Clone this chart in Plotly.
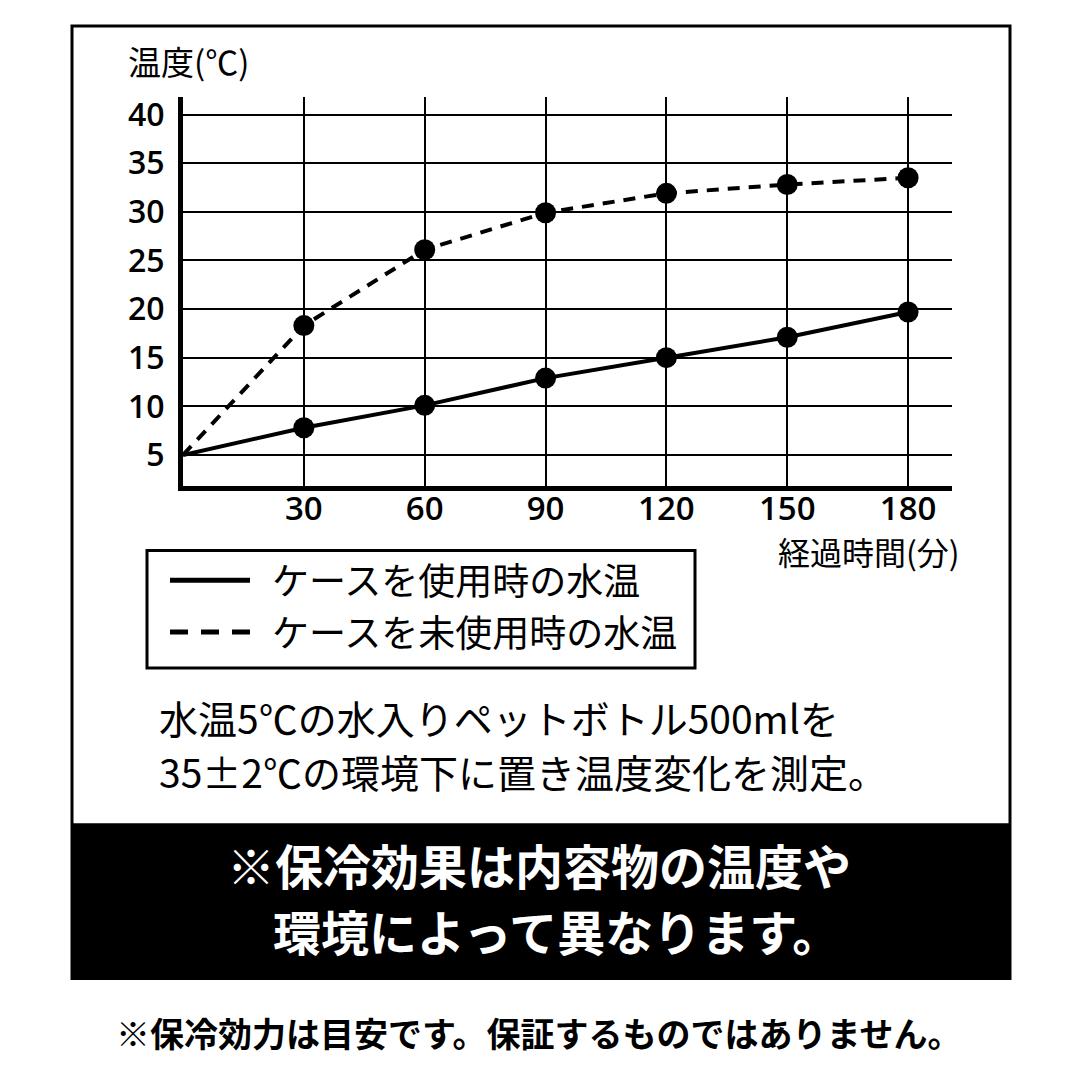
import plotly.graph_objects as go

# ---- data ----
minutes = [0, 30, 60, 90, 120, 150, 180]
with_case = [5, 7.8, 10.1, 12.9, 15.0, 17.1, 19.7]
without_case = [5, 18.3, 26.1, 29.9, 31.9, 32.8, 33.5]
x_ticks = [30, 60, 90, 120, 150, 180]
y_ticks = [5, 10, 15, 20, 25, 30, 35, 40]
legend_labels = ["ケースを使用時の水温", "ケースを未使用時の水温"]
y_title = "温度(℃)"
x_title = "経過時間(分)"
note_lines = ["水温5℃の水入りペットボトル500mlを", "35±2℃の環境下に置き温度変化を測定。"]
box_lines = ["※保冷効果は内容物の温度や", "環境によって異なります。"]
footer = "※保冷効力は目安です。保証するものではありません。"

W = H = 1080
OFF = 8  # page body margin
def px(x):
    return (x - OFF) / W
def py(y):
    return 1 - (y - OFF) / H

JP = "Noto Sans CJK JP"
NUM = "Open Sans"

# no marker at the starting point (time 0)
msize = [0] + [21] * (len(minutes) - 1)

fig = go.Figure()
fig.add_trace(go.Scatter(
    x=minutes, y=without_case, mode="lines+markers",
    line=dict(color="black", width=4, dash="12px,9px"),
    marker=dict(size=msize, color="black", opacity=1, line=dict(width=0)),
    showlegend=False, cliponaxis=False))
fig.add_trace(go.Scatter(
    x=minutes, y=with_case, mode="lines+markers",
    line=dict(color="black", width=4),
    marker=dict(size=msize, color="black", opacity=1, line=dict(width=0)),
    showlegend=False, cliponaxis=False))

shapes = []
shapes.append(dict(type="rect", xref="paper", yref="paper",
                   x0=px(72), x1=px(1010), y0=py(978), y1=py(21),
                   line=dict(color="black", width=3), layer="below"))
shapes.append(dict(type="rect", xref="paper", yref="paper",
                   x0=px(71), x1=px(1011), y0=py(979), y1=py(822),
                   fillcolor="black", line=dict(color="black", width=0)))
shapes.append(dict(type="rect", xref="paper", yref="paper",
                   x0=px(147), x1=px(695), y0=py(666), y1=py(548),
                   line=dict(color="black", width=3)))
shapes.append(dict(type="line", xref="paper", yref="paper",
                   x0=px(170), x1=px(250), y0=py(578), y1=py(578),
                   line=dict(color="black", width=5)))
shapes.append(dict(type="line", xref="paper", yref="paper",
                   x0=px(170), x1=px(250), y0=py(630), y1=py(630),
                   line=dict(color="black", width=5, dash="18px,13px")))

annotations = []
annotations.append(dict(text=y_title, xref="paper", yref="paper",
                        x=px(126), y=py(56), xanchor="left", yanchor="middle",
                        showarrow=False, font=dict(family=JP, size=33, color="black")))
annotations.append(dict(text=x_title, xref="paper", yref="paper",
                        x=px(962), y=py(548), xanchor="right", yanchor="middle",
                        showarrow=False, font=dict(family=JP, size=32, color="black")))
for lbl, yy in zip(legend_labels, [577, 629]):
    annotations.append(dict(text=lbl, xref="paper", yref="paper",
                            x=px(270), y=py(yy), xanchor="left", yanchor="middle",
                            showarrow=False, font=dict(family=JP, size=37, color="black")))
for line, yy in zip(note_lines, [715, 770]):
    annotations.append(dict(text=line, xref="paper", yref="paper",
                            x=px(157), y=py(yy), xanchor="left", yanchor="middle",
                            showarrow=False, font=dict(family=JP, size=39, color="black")))
for line, xx, yy in zip(box_lines, [225, 271], [863, 929]):
    annotations.append(dict(text=line, xref="paper", yref="paper",
                            x=px(xx), y=py(yy), xanchor="left", yanchor="middle",
                            showarrow=False,
                            font=dict(family=JP, size=48, color="white", weight="bold")))
annotations.append(dict(text=footer, xref="paper", yref="paper",
                        x=px(539), y=py(1032), xanchor="center", yanchor="middle",
                        showarrow=False,
                        font=dict(family=JP, size=34, color="black", weight="bold")))

fig.update_layout(
    width=W, height=H,
    margin=dict(l=0, r=0, t=0, b=0),
    paper_bgcolor="white", plot_bgcolor="white",
    shapes=shapes, annotations=annotations,
    xaxis=dict(domain=[px(183), px(952)], range=[0, 190.9],
               tickvals=x_ticks, ticktext=[str(v) for v in x_ticks],
               showgrid=True, gridcolor="black", gridwidth=2,
               showline=True, linecolor="black", linewidth=5,
               zeroline=False, ticks="", ticklabelstandoff=-10,
               tickfont=dict(family=NUM, size=33, color="black", weight=600),
               fixedrange=True),
    yaxis=dict(domain=[py(483), py(92)], range=[1.83, 41.84],
               tickvals=y_ticks, ticktext=[str(v) for v in y_ticks],
               showgrid=True, gridcolor="black", gridwidth=2,
               showline=True, linecolor="black", linewidth=5,
               zeroline=False, ticks="", ticklabelstandoff=7,
               tickfont=dict(family=NUM, size=32, color="black", weight=600),
               fixedrange=True),
)

fig.write_html("out.html")
